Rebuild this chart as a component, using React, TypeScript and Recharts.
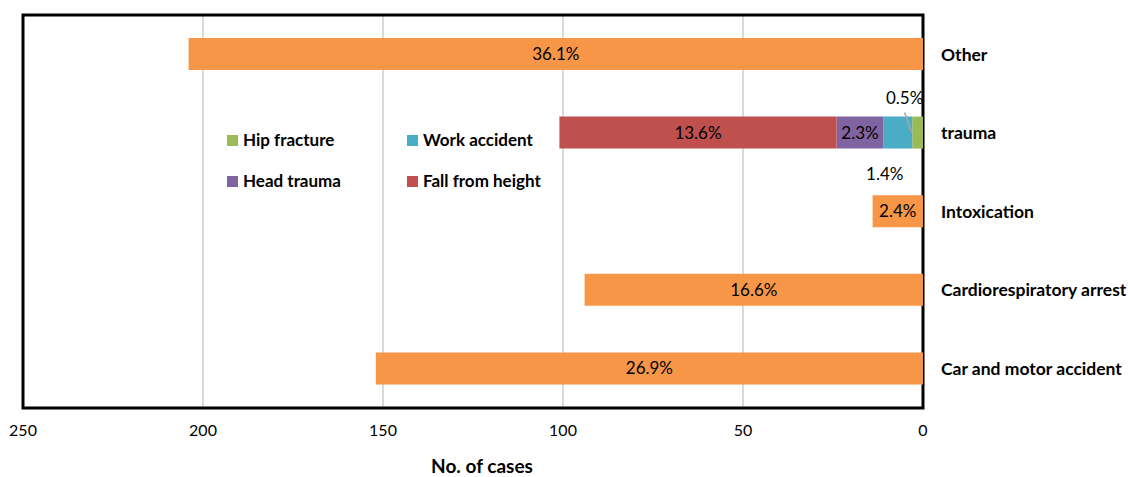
import { Bar, BarChart, CartesianGrid, LabelList, Legend, ReferenceArea, XAxis, YAxis } from 'recharts'

// categories top -> bottom, as in the figure
const categories = ['Other', 'trauma', 'Intoxication', 'Cardiorespiratory arrest', 'Car and motor accident']

// single-cause categories (orange)
const otherCases = [204, null, 14, 94, 152]
const otherPct = ['36.1%', '', '2.4%', '16.6%', '26.9%']

// trauma broken down (stacked)
const hipFracture = [null, 3, null, null, null]
const hipFracturePct = ['', '0.5%', '', '', '']
const workAccident = [null, 8, null, null, null]
const workAccidentPct = ['', '1.4%', '', '', '']
const headTrauma = [null, 13, null, null, null]
const headTraumaPct = ['', '2.3%', '', '', '']
const fallFromHeight = [null, 77, null, null, null]
const fallFromHeightPct = ['', '13.6%', '', '', '']

const xTicks = [0, 50, 100, 150, 200, 250]
const legendOrder = ['Hip fracture', 'Work accident', 'Head trauma', 'Fall from height']

const rows = categories.map((name, i) => ({
  name,
  cases: otherCases[i],
  casesPct: otherPct[i],
  hip: hipFracture[i],
  hipPct: hipFracturePct[i],
  work: workAccident[i],
  workPct: workAccidentPct[i],
  head: headTrauma[i],
  headPct: headTraumaPct[i],
  fall: fallFromHeight[i],
  fallPct: fallFromHeightPct[i],
}))

const FONT = 'Lato, "Open Sans", sans-serif'

function CenterLabel(props: any) {
  const { x, y, width, height, value } = props
  if (!value) return null
  return (
    <text x={x + width / 2} y={y + height / 2} dy={6} textAnchor="middle" fontSize={17} fill="#000">
      {value}
    </text>
  )
}

// 0.5% sits above its sliver with a thin leader line
function AboveLabel(props: any) {
  const { x, y, width, value } = props
  if (!value) return null
  const cx = x + width / 2
  return (
    <g>
      <line x1={cx - 13} y1={y - 4} x2={cx - 6} y2={y + 16} stroke="#a6a6a6" strokeWidth={1.5} />
      <text x={cx - 13} y={y - 19} dy={6} textAnchor="middle" fontSize={17} fill="#000">
        {value}
      </text>
    </g>
  )
}

// 1.4% sits below its bar
function BelowLabel(props: any) {
  const { x, y, width, height, value } = props
  if (!value) return null
  const cx = x + width / 2
  return (
    <text x={cx - 13} y={y + height + 25} dy={6} textAnchor="middle" fontSize={17} fill="#000">
      {value}
    </text>
  )
}

function LegendBox({ payload }: any) {
  const items = (payload || [])
    .filter((p: any) => p.type !== 'none' && legendOrder.includes(p.value))
    .sort((a: any, b: any) => legendOrder.indexOf(a.value) - legendOrder.indexOf(b.value))
  return (
    <div style={{ display: 'grid', gridTemplateColumns: '180px 180px', rowGap: 21, fontFamily: FONT }}>
      {items.map((p: any) => (
        <div
          key={p.value}
          style={{ display: 'flex', alignItems: 'center', fontWeight: 700, fontSize: 17, lineHeight: '20px', color: '#000' }}
        >
          <span style={{ width: 11, height: 11, background: p.color, marginRight: 5, display: 'inline-block' }} />
          {p.value}
        </div>
      ))}
    </div>
  )
}

export default function App() {
  return (
    <div style={{ position: 'absolute', left: 0, top: 0, width: 1128, height: 477, background: '#fff', fontFamily: FONT }}>
      <BarChart
        width={1128}
        height={477}
        data={rows}
        layout="vertical"
        barSize={32}
        margin={{ top: 15, right: 0, bottom: 0, left: 23 }}
      >
        <CartesianGrid horizontal={false} stroke="#d9d9d9" strokeWidth={2} />
        <XAxis
          type="number"
          domain={[0, 250]}
          ticks={xTicks}
          reversed
          axisLine={false}
          tickLine={false}
          tickSize={0}
          tickMargin={17}
          height={69}
          tick={{ fontSize: 16, fill: '#000' }}
          label={{ value: 'No. of cases', position: 'insideBottom', offset: 4, dx: 9, fontSize: 19, fontWeight: 700, fill: '#000' }}
        />
        <YAxis
          type="category"
          dataKey="name"
          orientation="right"
          width={205}
          axisLine={false}
          tickLine={false}
          tickSize={0}
          tickMargin={18}
          tick={{ fontSize: 17.5, fontWeight: 700, fill: '#000' }}
        />
        <Legend
          content={<LegendBox />}
          layout="horizontal"
          verticalAlign="middle"
          align="center"
          wrapperStyle={{ position: 'absolute', left: 227, top: 130, width: 380 }}
        />
        <Bar dataKey="cases" stackId="a" fill="#f79646" legendType="none" isAnimationActive={false}>
          <LabelList dataKey="casesPct" content={<CenterLabel />} />
        </Bar>
        <Bar dataKey="hip" name="Hip fracture" stackId="a" fill="#9bbb59" isAnimationActive={false}>
          <LabelList dataKey="hipPct" content={<AboveLabel />} />
        </Bar>
        <Bar dataKey="work" name="Work accident" stackId="a" fill="#4bacc6" isAnimationActive={false}>
          <LabelList dataKey="workPct" content={<BelowLabel />} />
        </Bar>
        <Bar dataKey="head" name="Head trauma" stackId="a" fill="#8064a2" isAnimationActive={false}>
          <LabelList dataKey="headPct" content={<CenterLabel />} />
        </Bar>
        <Bar dataKey="fall" name="Fall from height" stackId="a" fill="#c0504d" isAnimationActive={false}>
          <LabelList dataKey="fallPct" content={<CenterLabel />} />
        </Bar>
        <ReferenceArea x1={0} x2={250} fill="none" stroke="#000" strokeWidth={3} ifOverflow="visible" />
      </BarChart>
    </div>
  )
}
